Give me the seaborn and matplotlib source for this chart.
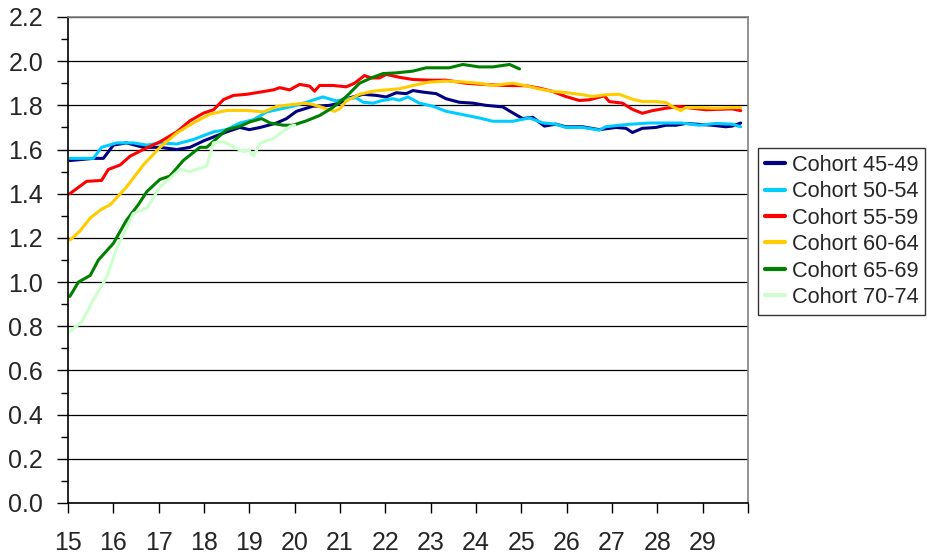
import numpy as np
import pandas as pd
import matplotlib
matplotlib.use("Agg")
import matplotlib.pyplot as plt
import seaborn as sns
from matplotlib.ticker import MultipleLocator

# values (age on x, ratio on y)
c45_x = [15.04, 15.56, 15.78, 16.0, 16.29, 16.66, 17.03, 17.40, 17.69, 18.0, 18.5, 18.79,
         19.0, 19.24, 19.6, 19.82, 20.04, 20.40, 20.77, 20.99, 21.21, 21.51, 21.80, 22.02,
         22.24, 22.46, 22.61, 22.83, 23.12, 23.34, 23.63, 23.93, 24.22, 24.59, 24.81, 25.03,
         25.25, 25.51, 25.76, 25.98, 26.35, 26.72, 27.09, 27.31, 27.45, 27.67, 27.97, 28.19,
         28.41, 28.63, 28.92, 29.21, 29.51, 29.65, 29.84]
c45_y = [1.55, 1.56, 1.56, 1.62, 1.63, 1.61, 1.61, 1.60, 1.61, 1.64, 1.68, 1.70,
         1.69, 1.70, 1.72, 1.74, 1.773, 1.796, 1.80, 1.81, 1.834, 1.85, 1.845, 1.838,
         1.857, 1.853, 1.867, 1.86, 1.853, 1.83, 1.814, 1.81, 1.80, 1.793, 1.766, 1.74,
         1.746, 1.706, 1.715, 1.703, 1.703, 1.69, 1.70, 1.696, 1.677, 1.696, 1.70, 1.71,
         1.71, 1.718, 1.714, 1.71, 1.703, 1.706, 1.72]

c50_x = [15.04, 15.56, 15.74, 16.07, 16.44, 16.74, 17.03, 17.40, 17.76, 18.21, 18.5, 18.79,
         19.09, 19.38, 19.96, 20.26, 20.62, 20.92, 21.14, 21.36, 21.51, 21.73, 21.95, 22.17,
         22.31, 22.50, 22.75, 23.05, 23.34, 23.71, 24.07, 24.37, 24.81, 25.18, 25.47, 25.76,
         25.98, 26.35, 26.72, 26.86, 27.16, 27.45, 27.82, 28.19, 28.55, 28.92, 29.29, 29.65,
         29.84]
c50_y = [1.56, 1.56, 1.61, 1.63, 1.63, 1.62, 1.63, 1.625, 1.645, 1.68, 1.69, 1.72,
         1.735, 1.77, 1.796, 1.814, 1.838, 1.82, 1.83, 1.834, 1.814, 1.81, 1.823, 1.83,
         1.823, 1.838, 1.81, 1.796, 1.773, 1.758, 1.743, 1.728, 1.728, 1.743, 1.721, 1.715,
         1.70, 1.70, 1.688, 1.703, 1.71, 1.715, 1.72, 1.72, 1.72, 1.71, 1.718, 1.715,
         1.703]

c55_x = [15.04, 15.41, 15.74, 15.89, 16.15, 16.37, 16.66, 17.03, 17.40, 17.69, 17.99, 18.21,
         18.43, 18.65, 18.94, 19.09, 19.53, 19.67, 19.89, 20.11, 20.33, 20.44, 20.55, 20.84,
         21.14, 21.32, 21.54, 21.69, 21.87, 22.02, 22.31, 22.61, 22.97, 23.34, 23.78, 24.22,
         24.66, 25.10, 25.40, 25.69, 25.98, 26.28, 26.50, 26.72, 26.83, 26.94, 27.23, 27.45,
         27.67, 27.89, 28.19, 28.48, 28.77, 29.07, 29.36, 29.65, 29.84]
c55_y = [1.40, 1.456, 1.46, 1.51, 1.53, 1.57, 1.60, 1.635, 1.68, 1.73, 1.765, 1.78,
         1.826, 1.845, 1.85, 1.855, 1.87, 1.88, 1.87, 1.895, 1.887, 1.864, 1.89, 1.89,
         1.884, 1.90, 1.935, 1.924, 1.924, 1.94, 1.927, 1.917, 1.914, 1.914, 1.90, 1.894,
         1.89, 1.889, 1.878, 1.863, 1.84, 1.822, 1.825, 1.837, 1.843, 1.817, 1.81, 1.782,
         1.764, 1.776, 1.787, 1.795, 1.787, 1.78, 1.782, 1.784, 1.776]

c60_x = [15.04, 15.26, 15.49, 15.74, 15.93, 16.29, 16.66, 17.03, 17.40, 17.76, 18.13, 18.5,
         18.94, 19.31, 19.6, 19.96, 20.22, 20.40, 20.62, 20.88, 20.99, 21.14, 21.43, 21.73,
         22.02, 22.31, 22.61, 22.97, 23.34, 23.71, 24.07, 24.37, 24.66, 24.81, 25.10, 25.40,
         25.69, 25.98, 26.35, 26.57, 26.86, 27.16, 27.45, 27.67, 27.97, 28.19, 28.33, 28.52,
         28.63, 28.92, 29.29, 29.65, 29.84]
c60_y = [1.19, 1.23, 1.29, 1.33, 1.35, 1.43, 1.53, 1.61, 1.675, 1.72, 1.76, 1.777,
         1.777, 1.77, 1.795, 1.804, 1.81, 1.804, 1.79, 1.773, 1.784, 1.82, 1.85, 1.864,
         1.87, 1.875, 1.89, 1.905, 1.91, 1.906, 1.90, 1.89, 1.897, 1.90, 1.889, 1.874,
         1.863, 1.858, 1.848, 1.84, 1.848, 1.85, 1.828, 1.817, 1.817, 1.813, 1.795, 1.776,
         1.79, 1.79, 1.787, 1.79, 1.79]

c65_x = [15.04, 15.23, 15.49, 15.67, 16.0, 16.29, 16.55, 16.74, 17.03, 17.25, 17.54, 17.91,
         18.06, 18.28, 18.5, 18.79, 19.01, 19.27, 19.46, 19.75, 19.96, 20.26, 20.55, 20.84,
         21.14, 21.43, 21.69, 21.95, 22.24, 22.61, 22.90, 23.19, 23.41, 23.71, 24.07, 24.37,
         24.74, 24.96]
c65_y = [0.935, 1.00, 1.03, 1.10, 1.175, 1.28, 1.35, 1.41, 1.465, 1.48, 1.55, 1.61,
         1.61, 1.65, 1.69, 1.705, 1.725, 1.74, 1.72, 1.71, 1.71, 1.73, 1.754, 1.79,
         1.84, 1.90, 1.924, 1.944, 1.947, 1.955, 1.97, 1.97, 1.97, 1.985, 1.974, 1.974,
         1.985, 1.965]

c70_x = [15.04, 15.30, 15.56, 15.85, 16.07, 16.44, 16.74, 17.03, 17.25, 17.47, 17.69, 18.06,
         18.21, 18.43, 18.87, 18.98, 19.09, 19.24, 19.53, 19.90, 20.0]
c70_y = [0.776, 0.82, 0.92, 1.02, 1.15, 1.31, 1.335, 1.43, 1.47, 1.51, 1.50, 1.525,
         1.63, 1.635, 1.59, 1.60, 1.57, 1.63, 1.65, 1.705, 1.71]

cohorts = ["Cohort 45-49", "Cohort 50-54", "Cohort 55-59",
           "Cohort 60-64", "Cohort 65-69", "Cohort 70-74"]
colors = ["#000080", "#00CCFF", "#FF0000", "#FFCC00", "#008000", "#CCFFCC"]

series = [(c45_x, c45_y), (c50_x, c50_y), (c55_x, c55_y),
          (c60_x, c60_y), (c65_x, c65_y), (c70_x, c70_y)]
frames = []
for name, (xs, ys) in zip(cohorts, series):
    frames.append(pd.DataFrame({"age": xs, "value": ys, "cohort": name}))
df = pd.concat(frames, ignore_index=True)

sns.set_style("white")
plt.rcParams["font.family"] = ["Liberation Sans", "DejaVu Sans"]

fig = plt.figure(figsize=(9.28, 5.57), dpi=100)
ax = fig.add_axes([0.0733, 0.097, 0.7327, 0.8725])

sns.lineplot(data=df, x="age", y="value", hue="cohort", hue_order=cohorts,
             palette=colors, estimator=None, sort=True, linewidth=2.2, ax=ax)

ax.set_xlim(15, 30)
ax.set_ylim(0, 2.2)
ax.set_xticks(np.arange(15, 31, 1))
ax.set_xticklabels([str(v) for v in range(15, 30)] + [""])
ax.set_yticks(np.arange(0, 2.21, 0.2))
ax.set_yticklabels([f"{v:.1f}" for v in np.arange(0, 2.21, 0.2)])
ax.yaxis.set_minor_locator(MultipleLocator(0.1))
ax.set_xlabel("")
ax.set_ylabel("")

ax.grid(axis="y", which="major", color="black", linewidth=0.9)
ax.set_axisbelow(True)
ax.tick_params(axis="x", which="major", direction="out", length=7, width=1,
               color="black", labelsize=18, pad=13, bottom=True)
ax.tick_params(axis="y", which="major", direction="out", length=8, width=1,
               color="black", labelsize=18, pad=10, left=True)
ax.tick_params(axis="y", which="minor", direction="out", length=5, width=1,
               color="black", left=True)

for side in ["left", "bottom"]:
    ax.spines[side].set_color("black")
    ax.spines[side].set_linewidth(1.2)
for side in ["top", "right"]:
    ax.spines[side].set_color("#808080")
    ax.spines[side].set_linewidth(1.2)

handles, labels = ax.get_legend_handles_labels()
ax.get_legend().remove()
leg = fig.legend(handles, labels, loc="upper left", bbox_to_anchor=(0.817, 0.734),
                 bbox_transform=fig.transFigure, borderaxespad=0, fontsize=15.7,
                 frameon=True, fancybox=False, edgecolor="black",
                 handlelength=0.95, handletextpad=0.3, borderpad=0.3,
                 labelspacing=0.25)
leg.get_frame().set_linewidth(1.0)
for line in leg.get_lines():
    line.set_linewidth(3)

fig.savefig("out.png", dpi=100)
